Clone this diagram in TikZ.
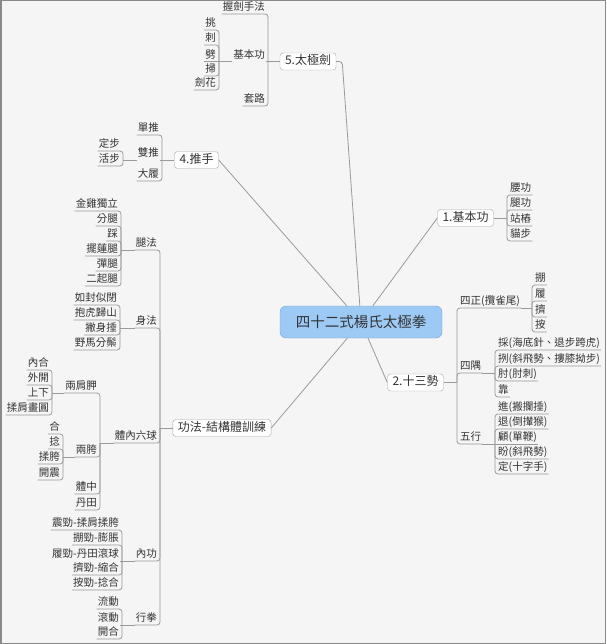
\documentclass[tikz,border=0pt]{standalone}
\usepackage{fontspec}
\newfontfamily\cjk{Noto Sans CJK TC}
\usepackage{xcolor}
\definecolor{MapBack}{HTML}{F5F5F5}
\definecolor{MapFrame}{HTML}{8A8A8A}
\definecolor{MapLine}{HTML}{9A9A9A}
\definecolor{MapText}{HTML}{333333}
\definecolor{MapBox}{HTML}{A8A8A8}
\definecolor{RootFill}{HTML}{9DCAF5}
\definecolor{RootLine}{HTML}{72A4D6}

\begin{document}
\begin{tikzpicture}[x=1pt, y=-1pt,
    link/.style={draw=MapLine, line width=0.8pt, rounded corners=3pt},
    leaf/.style={inner xsep=1pt, inner ysep=1pt, text height=8.5pt, text depth=2pt, text=MapText, font=\cjk\fontsize{10.5}{12}\selectfont},
    leafR/.style={leaf, anchor=south west},
    leafL/.style={leaf, anchor=south east},
    topic/.style={draw=MapBox, fill=white, rounded corners=3pt, inner xsep=5pt, inner ysep=0pt, minimum height=17pt, text height=9pt, text depth=2.5pt, text=MapText, font=\cjk\fontsize{12}{14}\selectfont},
    mainbox/.style={draw=RootLine, fill=RootFill, rounded corners=6pt, minimum width=162pt, minimum height=32pt, text=MapText, font=\cjk\fontsize{14.5}{16}\selectfont}]
                \useasboundingbox (0,0) rectangle (606,644);
                \fill[MapBack] (0,0) rectangle (606,644);
                \draw[MapFrame, line width=1.5pt] (0.75,0.75) rectangle (605.25,643.25);

                \node[mainbox] (root) at (361,322) {四十二式楊氏太極拳};
                \node[topic] (jbg) at (465.5,218) {1.基本功};
                \node[topic] (sss) at (415.5,382.5) {2.十三勢};
                \node[topic] (gf) at (222,428) {功法-結構體訓練};
                \node[topic] (ts) at (196.5,160) {4.推手};
                \node[topic] (tjj) at (308,61.5) {5.太極劍};

                \draw[link] (root) -- (jbg.west);
                \draw[link] (root) -- (sss.west);
                \draw[link] (root) -- (gf.east);
                \draw[link] (root) -- (ts.east);
                \draw[link] (tjj.east) -- ++(6,0) -- (root);

                % 1.基本功
                \node[leafR] (yg) at (509,195) {腰功};
                \node[leafR] (tg) at (509,210) {腿功};
                \node[leafR] (zz) at (509,226) {站樁};
                \node[leafR] (mb) at (509,241) {貓步};
                \coordinate (jbg-j) at (507,218);
                \draw[link] (jbg.east) -- (jbg-j);
                \draw[link] (jbg-j) |- (yg.south east);
                \draw[link] (jbg-j) |- (tg.south east);
                \draw[link] (jbg-j) |- (zz.south east);
                \draw[link] (jbg-j) |- (mb.south east);

                % 2.十三勢
                \node[leafR] (sz) at (459,308) {四正(攬雀尾)};
                \node[leafR] (sy) at (459,373) {四隅};
                \node[leafR] (wx) at (459,444) {五行};
                \coordinate (sss-j) at (457,382.5);
                \draw[link] (sss.east) -- (sss-j);
                \draw[link] (sss-j) |- (sz.south east);
                \draw[link] (sss-j) |- (sy.south east);
                \draw[link] (sss-j) |- (wx.south east);

                \node[leafR] (peng) at (534,285) {掤};
                \node[leafR] (lu) at (534,301) {履};
                \node[leafR] (ji) at (534,317) {擠};
                \node[leafR] (an) at (534,332) {按};
                \coordinate (sz-j) at (532,308);
                \draw[link] (sz.south east) -- (sz-j);
                \draw[link] (sz-j) |- (peng.south east);
                \draw[link] (sz-j) |- (lu.south east);
                \draw[link] (sz-j) |- (ji.south east);
                \draw[link] (sz-j) |- (an.south east);

                \node[leafR] (cai) at (497,350) {採(海底針、退步跨虎)};
                \node[leafR] (lie) at (497,366) {挒(斜飛勢、摟膝拗步)};
                \node[leafR] (zhou) at (497,381) {肘(肘刺)};
                \node[leafR] (kao) at (497,397) {靠};
                \coordinate (sy-j) at (495,373);
                \draw[link] (sy.south east) -- (sy-j);
                \draw[link] (sy-j) |- (cai.south east);
                \draw[link] (sy-j) |- (lie.south east);
                \draw[link] (sy-j) |- (zhou.south east);
                \draw[link] (sy-j) |- (kao.south east);

                \node[leafR] (jin) at (497,414) {進(搬攔捶)};
                \node[leafR] (tui) at (497,429) {退(倒攆猴)};
                \node[leafR] (gu) at (497,444) {顧(單鞭)};
                \node[leafR] (pan) at (497,459) {盼(斜飛勢)};
                \node[leafR] (ding) at (497,474) {定(十字手)};
                \coordinate (wx-j) at (495,444);
                \draw[link] (wx.south east) -- (wx-j);
                \draw[link] (wx-j) |- (jin.south east);
                \draw[link] (wx-j) |- (tui.south east);
                \draw[link] (wx-j) -- (gu.south east);
                \draw[link] (wx-j) |- (pan.south east);
                \draw[link] (wx-j) |- (ding.south east);

                % 4.推手
                \node[leafL] (dt) at (160,135) {單推};
                \node[leafL] (st) at (160,160) {雙推};
                \node[leafL] (dl) at (160,181) {大履};
                \coordinate (ts-j) at (162,160);
                \draw[link] (ts.west) -- (ts-j);
                \draw[link] (ts-j) |- (dt.south west);
                \draw[link] (ts-j) -- (st.south east);
                \draw[link] (ts-j) |- (dl.south west);

                \node[leafL] (dbu) at (121,151) {定步};
                \node[leafL] (hbu) at (121,166) {活步};
                \coordinate (st-j) at (123,160);
                \draw[link] (st.south west) -- (st-j);
                \draw[link] (st-j) |- (dbu.south west);
                \draw[link] (st-j) |- (hbu.south west);

                % 5.太極劍
                \node[leafL] (wj) at (266,14) {握劍手法};
                \node[leafL] (jbgj) at (266,61.5) {基本功};
                \node[leafL] (tl) at (266,106) {套路};
                \coordinate (tjj-j) at (268,61.5);
                \draw[link] (tjj.west) -- (tjj-j);
                \draw[link] (tjj-j) |- (wj.south west);
                \draw[link] (tjj-j) -- (jbgj.south east);
                \draw[link] (tjj-j) |- (tl.south west);

                \node[leafL] (tiao) at (217,30) {挑};
                \node[leafL] (ci) at (217,45) {刺};
                \node[leafL] (pi) at (217,61.5) {劈};
                \node[leafL] (sao) at (217,76) {掃};
                \node[leafL] (jh) at (217,90) {劍花};
                \coordinate (jbgj-j) at (219,61.5);
                \draw[link] (jbgj.south west) -- (jbgj-j);
                \draw[link] (jbgj-j) |- (tiao.south west);
                \draw[link] (jbgj-j) |- (ci.south west);
                \draw[link] (jbgj-j) -- (pi.south west);
                \draw[link] (jbgj-j) |- (sao.south west);
                \draw[link] (jbgj-j) |- (jh.south west);

                % 功法-結構體訓練
                \node[leafL] (tf) at (158,250) {腿法};
                \node[leafL] (sf) at (158,328) {身法};
                \node[leafL] (tn) at (158,443) {體內六球};
                \node[leafL] (ng) at (158,561) {內功};
                \node[leafL] (xq) at (158,625) {行拳};
                \coordinate (gf-j) at (160,428);
                \draw[link] (gf.west) -- (gf-j);
                \draw[link] (gf-j) |- (tf.south west);
                \draw[link] (gf-j) |- (sf.south west);
                \draw[link] (gf-j) |- (tn.south west);
                \draw[link] (gf-j) |- (ng.south west);
                \draw[link] (gf-j) |- (xq.south west);

                \node[leafL] (jjdl) at (119,211) {金雞獨立};
                \node[leafL] (ft) at (119,226) {分腿};
                \node[leafL] (cf) at (119,241) {踩};
                \node[leafL] (blt) at (119,256) {擺蓮腿};
                \node[leafL] (dtui) at (119,271) {彈腿};
                \node[leafL] (eqt) at (119,286) {二起腿};
                \coordinate (tf-j) at (121,250);
                \draw[link] (tf.south west) -- (tf-j);
                \draw[link] (tf-j) |- (jjdl.south west);
                \draw[link] (tf-j) |- (ft.south west);
                \draw[link] (tf-j) |- (cf.south west);
                \draw[link] (tf-j) |- (blt.south west);
                \draw[link] (tf-j) |- (dtui.south west);
                \draw[link] (tf-j) |- (eqt.south west);

                \node[leafL] (rfsb) at (118,305) {如封似閉};
                \node[leafL] (bhgs) at (118,320) {抱虎歸山};
                \node[leafL] (psc) at (118,335) {撇身捶};
                \node[leafL] (ymfz) at (118,350) {野馬分鬃};
                \coordinate (sf-j) at (120,328);
                \draw[link] (sf.south west) -- (sf-j);
                \draw[link] (sf-j) |- (rfsb.south west);
                \draw[link] (sf-j) |- (bhgs.south west);
                \draw[link] (sf-j) |- (psc.south west);
                \draw[link] (sf-j) |- (ymfz.south west);

                \node[leafL] (ljj) at (98,393) {兩肩胛};
                \node[leafL] (lk) at (98,457) {兩胯};
                \node[leafL] (tz) at (98,494) {體中};
                \node[leafL] (dtian) at (98,510) {丹田};
                \coordinate (tn-j) at (100,443);
                \draw[link] (tn.south west) -- (tn-j);
                \draw[link] (tn-j) |- (ljj.south west);
                \draw[link] (tn-j) |- (lk.south west);
                \draw[link] (tn-j) |- (tz.south west);
                \draw[link] (tn-j) |- (dtian.south west);

                \node[leafL] (nh) at (50,370) {內合};
                \node[leafL] (wk) at (50,385) {外開};
                \node[leafL] (sx) at (50,400) {上下};
                \node[leafL] (rjhy) at (50,415) {揉肩畫圓};
                \coordinate (ljj-j) at (52,393);
                \draw[link] (ljj.south west) -- (ljj-j);
                \draw[link] (ljj-j) |- (nh.south west);
                \draw[link] (ljj-j) |- (wk.south west);
                \draw[link] (ljj-j) |- (sx.south west);
                \draw[link] (ljj-j) |- (rjhy.south west);

                \node[leafL] (he) at (61,434) {合};
                \node[leafL] (nian) at (61,449) {捻};
                \node[leafL] (rk) at (61,464) {揉胯};
                \node[leafL] (kz) at (61,480) {開震};
                \coordinate (lk-j) at (63,457);
                \draw[link] (lk.south west) -- (lk-j);
                \draw[link] (lk-j) |- (he.south west);
                \draw[link] (lk-j) |- (nian.south west);
                \draw[link] (lk-j) |- (rk.south west);
                \draw[link] (lk-j) |- (kz.south west);

                \node[leafL] (zj) at (120,530) {震勁-揉肩揉胯};
                \node[leafL] (pj) at (120,545) {掤勁-膨脹};
                \node[leafL] (lj) at (120,561) {履勁-丹田滾球};
                \node[leafL] (jj) at (120,575) {擠勁-縮合};
                \node[leafL] (aj) at (120,590) {按勁-捻合};
                \coordinate (ng-j) at (122,561);
                \draw[link] (ng.south west) -- (ng-j);
                \draw[link] (ng-j) |- (zj.south west);
                \draw[link] (ng-j) |- (pj.south west);
                \draw[link] (ng-j) -- (lj.south east);
                \draw[link] (ng-j) |- (jj.south west);
                \draw[link] (ng-j) |- (aj.south west);

                \node[leafL] (ld) at (120,609) {流動};
                \node[leafL] (gd) at (120,625) {滾動};
                \node[leafL] (kh) at (120,639) {開合};
                \coordinate (xq-j) at (122,625);
                \draw[link] (xq.south west) -- (xq-j);
                \draw[link] (xq-j) |- (ld.south west);
                \draw[link] (xq-j) -- (gd.south east);
                \draw[link] (xq-j) |- (kh.south west);
            \end{tikzpicture}
\end{document}
